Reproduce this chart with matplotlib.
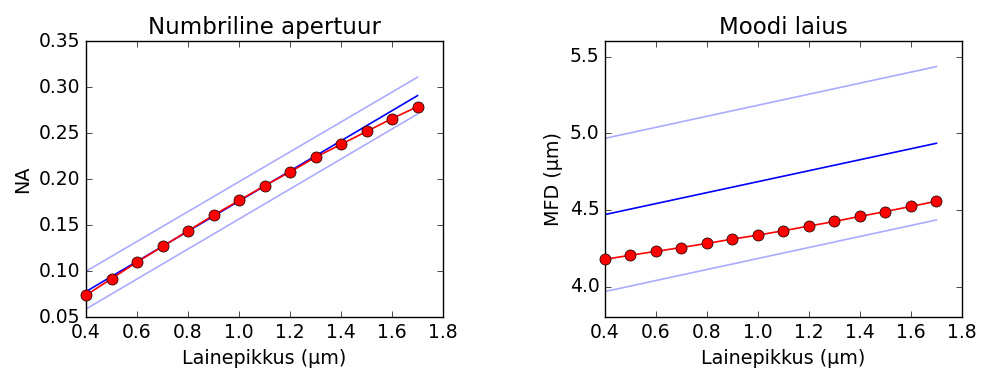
#!/usr/bin/env python3
"""Numbriline apertuur ja moodi laius vs lainepikkus (classic matplotlib look)."""
import matplotlib
matplotlib.use("Agg")
import matplotlib.pyplot as plt
import numpy as np

plt.style.use("classic")

wavelength = [0.4, 0.5, 0.6, 0.7, 0.8, 0.9, 1.0, 1.1, 1.2, 1.3, 1.4, 1.5, 1.6, 1.7]
na_meas = [0.074, 0.092, 0.110, 0.127, 0.144, 0.161, 0.177, 0.193,
           0.208, 0.224, 0.238, 0.252, 0.266, 0.279]
mfd_meas = [4.178, 4.205, 4.230, 4.255, 4.282, 4.310, 4.336, 4.365,
            4.395, 4.425, 4.458, 4.490, 4.523, 4.557]

# model lines (end points) and tolerance bands
model_x = [0.4, 1.7]
na_model = [0.078, 0.291]
na_upper = [0.100, 0.311]
na_lower = [0.059, 0.271]
mfd_model = [4.470, 4.935]
mfd_upper = [4.967, 5.435]
mfd_lower = [3.968, 4.435]

fig = plt.figure(figsize=(9.82, 3.72), dpi=100, facecolor="white")
ax1 = fig.add_axes([0.0876, 0.147, 0.3636, 0.742])
ax2 = fig.add_axes([0.616, 0.147, 0.3636, 0.742])

panels = [
    (ax1, na_meas, na_model, na_upper, na_lower, "Numbriline apertuur", "NA",
     (0.05, 0.35), np.arange(0.05, 0.351, 0.05), "%.2f"),
    (ax2, mfd_meas, mfd_model, mfd_upper, mfd_lower, "Moodi laius", "MFD (µm)",
     (3.8, 5.6), np.arange(4.0, 5.51, 0.5), "%.1f"),
]

for ax, meas, model, upper, lower, title, ylabel, ylim, yticks, fmt in panels:
    ax.plot(model_x, upper, color="b", alpha=0.33, lw=1.2)
    ax.plot(model_x, lower, color="b", alpha=0.33, lw=1.2)
    ax.plot(model_x, model, color="b", lw=1.2)
    ax.plot(wavelength, meas, "o-", color="r", mec="k", mfc="r",
            ms=8, lw=1.2, clip_on=False, zorder=3)
    ax.set_xlim(0.4, 1.8)
    ax.set_ylim(*ylim)
    ax.set_yticks(yticks)
    ax.set_yticklabels([fmt % v for v in yticks])
    ax.set_xticks(np.arange(0.4, 1.81, 0.2))
    ax.set_xticklabels(["%.1f" % v for v in np.arange(0.4, 1.81, 0.2)])
    ax.tick_params(labelsize=13.5)
    ax.set_title(title, fontsize=16.5)
    ax.set_xlabel("Lainepikkus (µm)", fontsize=13.8)
    ax.set_ylabel(ylabel, fontsize=13.8)

fig.savefig("out.png", dpi=100, facecolor="white")
